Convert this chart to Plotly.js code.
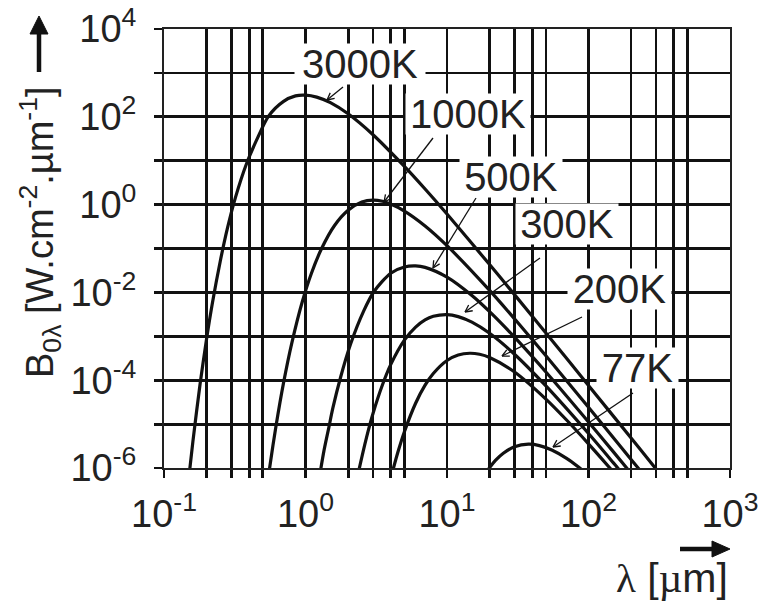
<!DOCTYPE html>
<html>
<head>
<meta charset="utf-8">
<script src="https://cdn.plot.ly/plotly-3.0.1.min.js"></script>
<style>
html,body{margin:0;padding:0;background:#fff;}
#chart{width:762px;height:606px;}
</style>
</head>
<body>
<div id="chart"></div>
<script>
// ---- data (wavelength in µm, B in W.cm^-2.µm^-1) ----
const curveNames = ['3000K', '1000K', '500K', '300K', '200K', '77K'];

const lambda3000 = [0.15, 0.16, 0.18, 0.2, 0.22, 0.25, 0.28, 0.32, 0.38, 0.45, 0.55, 0.7, 0.85, 1, 1.2, 1.5, 2, 3, 5, 7, 10, 20, 30, 50, 100, 200, 300, 350];
const b3000 = [6.3e-7, 4.0e-6, 8.3e-5, 8.8e-4, 5.8e-3, 0.052, 0.28, 1.46, 8.0, 29, 105, 225, 300, 312, 281, 210, 117, 39, 7.4, 2.26, 0.61, 0.043, 0.0089, 0.00119, 7.6e-5, 4.8e-6, 9.5e-7, 5.2e-7];

const lambda1000 = [0.52, 0.56, 0.62, 0.7, 0.8, 0.95, 1.1, 1.3, 1.6, 2.0, 2.5, 3, 3.5, 4, 5, 7, 10, 20, 30, 50, 100, 200, 250];
const b1000 = [1.9e-7, 1.1e-6, 9.4e-6, 8.8e-5, 7.0e-4, 6.2e-3, 0.027, 0.10, 0.33, 0.74, 1.14, 1.27, 1.19, 1.03, 0.714, 0.327, 0.116, 0.0111, 2.5e-3, 3.59e-4, 2.42e-5, 1.57e-6, 6.5e-7];

const lambda500 = [1.25, 1.35, 1.46, 1.56, 1.77, 2.08, 2.58, 3.05, 4, 5, 6, 7, 10, 15, 20, 30, 50, 100, 150, 200];
const b500 = [5.8e-7, 2.45e-6, 8.2e-6, 2.3e-5, 1.17e-4, 6.6e-4, 3.8e-3, 0.0105, 0.0274, 0.038, 0.0401, 0.0372, 0.0223, 8.5e-3, 3.64e-3, 9.55e-4, 1.54e-4, 1.12e-5, 2.33e-6, 7.55e-7];

const lambda300 = [2.3, 2.4, 2.7, 3, 3.5, 4, 5, 6, 7, 8, 10, 12, 15, 20, 30, 50, 100, 150, 170, 200];
const b300 = [5.1e-7, 9.8e-7, 5.0e-6, 1.75e-5, 7.9e-5, 2.27e-4, 8.2e-4, 1.62e-3, 2.36e-3, 2.85e-3, 3.12e-3, 2.81e-3, 2.10e-3, 1.17e-3, 3.9e-4, 7.4e-5, 6.1e-6, 1.31e-6, 8.1e-7, 4.3e-7];

const lambda200 = [4.0, 4.2, 4.5, 5, 6, 7, 8, 10, 12, 14.5, 17, 20, 30, 50, 70, 100, 140, 160];
const b200 = [5.6e-7, 1.04e-6, 2.31e-6, 6.7e-6, 2.99e-5, 7.7e-5, 1.42e-4, 2.81e-4, 3.75e-4, 4.11e-4, 3.89e-4, 3.30e-4, 1.54e-4, 3.72e-5, 1.24e-5, 3.55e-6, 1.04e-6, 6.3e-7];

const lambda77 = [18, 20, 22, 25, 30, 37.6, 45, 55, 70, 85, 100];
const b77 = [6.2e-7, 1.02e-6, 1.49e-6, 2.17e-6, 3.04e-6, 3.48e-6, 3.24e-6, 2.57e-6, 1.66e-6, 1.05e-6, 6.8e-7];

// labelled decades (major) and the extra grid lines between them (minor)
const xTickVals = [0.1, 1, 10, 100, 1000];
const xTickText = ['10<sup>-1</sup>', '10<sup>0</sup>', '10<sup>1</sup>', '10<sup>2</sup>', '10<sup>3</sup>'];
const xGridVals = [0.2, 0.3, 0.4, 0.5, 2, 3, 4, 5, 20, 30, 40, 50, 200, 300, 400, 500];
const yTickVals = [1e-6, 1e-4, 1e-2, 1, 100, 10000];
const yTickText = ['10<sup>-6</sup>', '10<sup>-4</sup>', '10<sup>-2</sup>', '10<sup>0</sup>', '10<sup>2</sup>', '10<sup>4</sup>'];
const yGridVals = [1e-5, 1e-3, 1e-1, 10, 1000];

const xTitle = '<span style="font-family:Liberation Serif">λ</span> [<span style="font-family:Liberation Serif">µ</span>m]';
const yTitle = 'B<sub>0λ</sub> [W.cm<sup>-2</sup>.µm<sup>-1</sup>]';

// ---- chart ----
const series = [
  [lambda3000, b3000], [lambda1000, b1000], [lambda500, b500],
  [lambda300, b300], [lambda200, b200], [lambda77, b77]
];
const traces = series.map((s, i) => ({
  x: s[0], y: s[1], name: curveNames[i], type: 'scatter', mode: 'lines',
  line: {color: '#111', width: 3.2, shape: 'spline', smoothing: 0.8},
  hoverinfo: 'skip'
}));

// plot area in pixels: left 164, right 730, top 29, bottom 468
const L = 164, R = 730, T = 29, B = 468;
const px = v => (v - L) / (R - L);
const py = v => (B - v) / (B - T);

const FONT = 'Liberation Sans, Arial, sans-serif';
const INK = '#111';

// label boxes: [center x, center y, box width]
const labelPos = [[360, 64, 130], [468, 114, 124], [511, 177, 102], [567, 224, 102], [619, 289, 103], [637, 368, 81]];
// arrows: [head x, head y, tail x, tail y]
const arrowPos = [[327, 100, 343, 87], [384, 202, 433, 138], [433, 268, 476, 198], [465, 312, 540, 258], [502, 356, 582, 317], [553, 447, 633, 393]];

// arrows drawn as shapes (line + small head)
const shapes = [];
function arrow(hx, hy, tx, ty, w, headLen, headHalf, filled) {
  const dx = hx - tx, dy = hy - ty, len = Math.hypot(dx, dy);
  const ux = dx / len, uy = dy / len;
  const bx = hx - ux * headLen, by = hy - uy * headLen;
  const nx = -uy * headHalf, ny = ux * headHalf;
  shapes.push({type: 'line', xref: 'paper', yref: 'paper',
    x0: px(tx), y0: py(ty), x1: px(filled ? bx + ux : hx), y1: py(filled ? by + uy : hy),
    line: {color: INK, width: w}});
  const p = `M${px(hx)},${py(hy)} L${px(bx + nx)},${py(by + ny)} ` + (filled ? `L${px(bx - nx)},${py(by - ny)} Z` : `M${px(hx)},${py(hy)} L${px(bx - nx)},${py(by - ny)}`);
  shapes.push({type: 'path', xref: 'paper', yref: 'paper', path: p,
    line: {color: INK, width: filled ? 1 : w}, fillcolor: filled ? INK : 'rgba(0,0,0,0)'});
}
arrowPos.forEach(a => arrow(a[0], a[1], a[2], a[3], 1.3, 7, 3.5, false));
arrow(39, 16, 39, 72, 4.5, 18, 9, true);     // y axis arrow
arrow(730, 549, 680, 549, 4.5, 18, 8, true); // x axis arrow

const annotations = [];
labelPos.forEach((p, i) => annotations.push({
  xref: 'paper', yref: 'paper', x: px(p[0]), y: py(p[1]), xanchor: 'center', yanchor: 'middle',
  text: curveNames[i], showarrow: false, bgcolor: '#fff', borderpad: 0,
  width: p[2], height: 40,
  font: {family: FONT, size: 40, color: '#222'}
}));
annotations.push({
  xref: 'paper', yref: 'paper', x: px(40), y: py(232), xanchor: 'center', yanchor: 'middle',
  text: yTitle, textangle: -90, showarrow: false,
  font: {family: FONT, size: 38, color: '#222'}
});
annotations.push({
  xref: 'paper', yref: 'paper', x: px(672), y: py(578), xanchor: 'center', yanchor: 'middle',
  text: xTitle, showarrow: false,
  font: {family: FONT, size: 41, color: '#222'}
});

function axis(range, tickvals, ticktext, gridvals, standoff) {
  return {
    type: 'log', range: range, tickmode: 'array', tickvals: tickvals, ticktext: ticktext,
    showgrid: true, gridcolor: INK, gridwidth: 2.8,
    ticks: 'outside', ticklen: 8, tickwidth: 2.8, tickcolor: INK,
    minor: {tickmode: 'array', tickvals: gridvals, showgrid: true, gridcolor: INK, gridwidth: 2.8,
            ticks: 'outside', ticklen: 8, tickwidth: 2.8, tickcolor: INK},
    showline: true, linecolor: '#222', linewidth: 2, mirror: true,
    tickfont: {family: FONT, size: 38, color: '#222'}, ticklabelstandoff: standoff,
    zeroline: false, fixedrange: true
  };
}

const layout = {
  width: 762, height: 606,
  margin: {l: L, r: 762 - R, t: T, b: 606 - B, pad: 0},
  paper_bgcolor: '#fff', plot_bgcolor: '#fff',
  showlegend: false,
  xaxis: axis([-1, 3], xTickVals, xTickText, xGridVals, 3),
  yaxis: axis([-6, 4], yTickVals, yTickText, yGridVals, 10),
  shapes: shapes,
  annotations: annotations
};

Plotly.newPlot('chart', traces, layout, {displayModeBar: false, staticPlot: true});
</script>
</body>
</html>
